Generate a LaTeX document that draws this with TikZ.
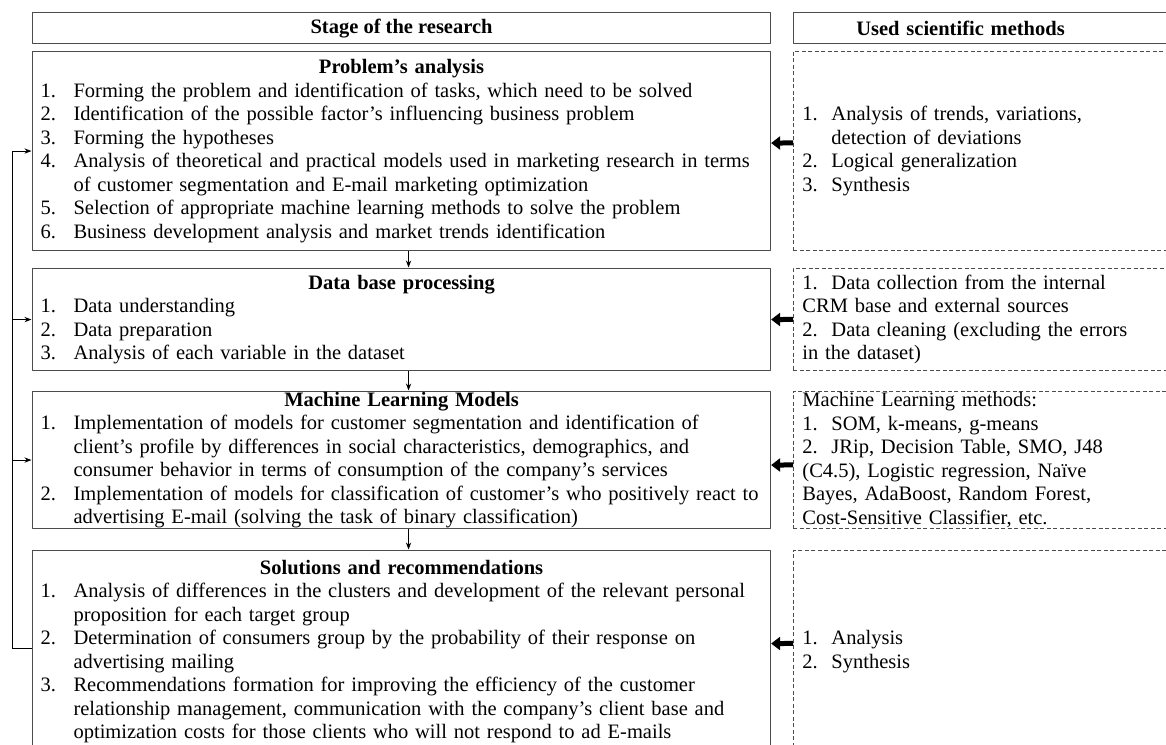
\documentclass[tikz,border=0pt]{standalone}
\usepackage{fontspec}
\setmainfont{Liberation Serif}
\usetikzlibrary{arrows.meta}
\newcommand\nr[1]{\makebox[33pt][l]{#1}}
\newcommand\nrm[1]{\makebox[29pt][l]{#1}}
\newcommand\hng{\hspace*{33pt}}
\newcommand\hd[1]{\hfill\textbf{#1}\hfill\null\\}

\begin{document}
\begin{tikzpicture}[x=1pt, y=-1pt, font=\fontsize{20.5}{23.5}\selectfont, line join=round, >=Stealth,
  stage/.style={draw=black!70, line width=1.1pt, text width=722pt, inner xsep=8pt, inner ysep=0pt, align=left, anchor=north west},
  method/.style={draw=black!70, line width=0.9pt, dash pattern=on 4pt off 2.5pt, text width=360pt, inner xsep=9pt, inner ysep=0pt, align=left, anchor=north west},
  head/.style={draw=black!70, line width=1.1pt, minimum height=31pt, inner ysep=0pt, anchor=north west, font=\fontsize{20.5}{23.5}\selectfont\bfseries},
  fat/.style={-{Triangle[length=9pt,width=13pt]}, line width=5pt},
  thin/.style={->, line width=0.9pt, shorten >=0.5pt}]
\useasboundingbox (0,0) rectangle (1166,744);
\clip (0,0) rectangle (1166,744);
\path
(32,12) coordinate (H)
(793,12) coordinate (U)
(32,51) coordinate (A)
(32,268) coordinate (B)
(32,391) coordinate (C)
(32,550) coordinate (D);

% header row
\node[head, minimum width=738pt] (h1) at (H) {Stage of the research};
\node[head, text width=360pt, inner xsep=9pt, align=left] (h2) at (U) {\makebox[316pt]{Used scientific methods}};

% stages of the research
\node[stage, minimum height=199pt] (s1) at (A) {\hd{Problem’s analysis}
\nr{1.}Forming the problem and identification of tasks, which need to be solved\\
\nr{2.}Identification of the possible factor’s influencing business problem\\
\nr{3.}Forming the hypotheses\\
\nr{4.}Analysis of theoretical and practical models used in marketing research in terms\\
\hng of customer segmentation and E-mail marketing optimization\\
\nr{5.}Selection of appropriate machine learning methods to solve the problem\\
\nr{6.}Business development analysis and market trends identification};
\node[stage, minimum height=102pt] (s2) at (B) {\hd{Data base processing}
\nr{1.}Data understanding\\
\nr{2.}Data preparation\\
\nr{3.}Analysis of each variable in the dataset};
\node[stage, minimum height=137pt] (s3) at (C) {\hd{Machine Learning Models}
\nr{1.}Implementation of models for customer segmentation and identification of\\
\hng client’s profile by differences in social characteristics, demographics, and\\
\hng consumer behavior in terms of consumption of the company’s services\\
\nr{2.}Implementation of models for classification of customer’s who positively react to\\
\hng advertising E-mail (solving the task of binary classification)};
\node[stage, minimum height=202pt] (s4) at (D) {\hd{Solutions and recommendations}
\nr{1.}Analysis of differences in the clusters and development of the relevant personal\\
\hng proposition for each target group\\
\nr{2.}Determination of consumers group by the probability of their response on\\
\hng advertising mailing\\
\nr{3.}Recommendations formation for improving the efficiency of the customer\\
\hng relationship management, communication with the company’s client base and\\
\hng optimization costs for those clients who will not respond to ad E-mails};

% used methods
\node[method, minimum height=199pt] (m1) at (A -| U) {\nrm{1.}Analysis of trends, variations,\\
\hspace*{29pt}detection of deviations\\
\nrm{2.}Logical generalization\\
\nrm{3.}Synthesis};
\node[method, minimum height=102pt] (m2) at (B -| U) {\nrm{1.}Data collection from the internal\\
CRM base and external sources\\
\nrm{2.}Data cleaning (excluding the errors\\
in the dataset)};
\node[method, minimum height=137pt] (m3) at (C -| U) {Machine Learning methods:\\
\nrm{1.}SOM, k-means, g-means\\
\nrm{2.}JRip, Decision Table, SMO, J48\\
(C4.5), Logistic regression, Naïve\\
Bayes, AdaBoost, Random Forest,\\
Cost-Sensitive Classifier, etc.};
\node[method, minimum height=202pt] (m4) at (D -| U) {\nrm{1.}Analysis\\
\nrm{2.}Synthesis};

\foreach \a/\b in {s1/s2,s2/s3,s3/s4} \draw[thin] ([xshift=7pt]\a.south) -- ([xshift=7pt]\b.north);
\foreach \i/\d in {1/8,2/0,3/-5,4/8} \draw[fat] ([yshift=\d pt]m\i.west) -- ([yshift=\d pt]s\i.east);
% feedback line
\draw[line width=0.9pt] ([yshift=3pt]s4.west) -- ++(-20,0) coordinate (fb);
\draw[thin] (fb) |- (s1.west);
\foreach \n in {s2,s3} \draw[thin] (fb |- \n.west) -- (\n.west);
\end{tikzpicture}
\end{document}
